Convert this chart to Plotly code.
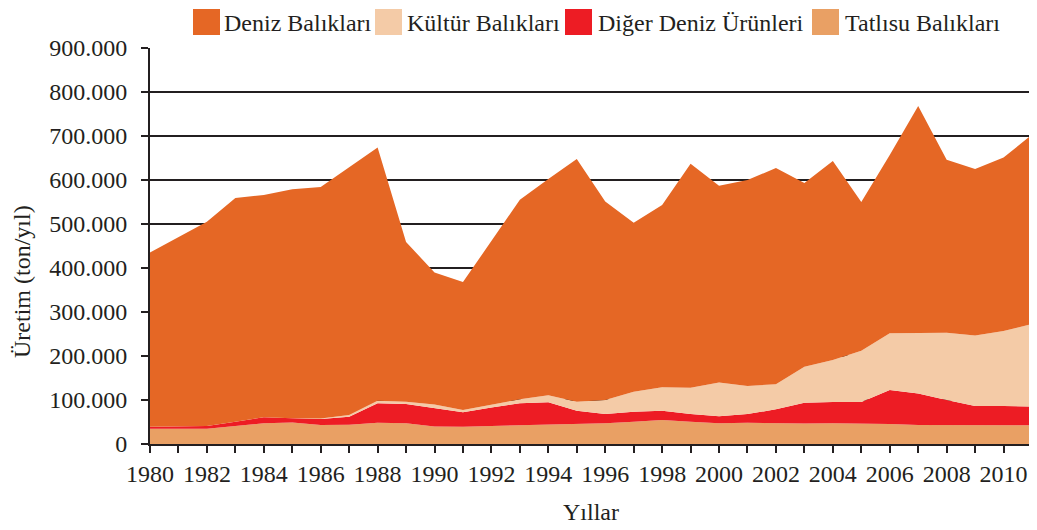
import plotly.graph_objects as go

years = [1980, 1981, 1982, 1983, 1984, 1985, 1986, 1987, 1988, 1989,
         1990, 1991, 1992, 1993, 1994, 1995, 1996, 1997, 1998, 1999,
         2000, 2001, 2002, 2003, 2004, 2005, 2006, 2007, 2008, 2009,
         2010, 2011]

# Üretim (ton/yıl)
tatlisu = [34800, 34800, 34800, 41000, 47000, 49000, 43000, 43500, 48500, 47000,
           40000, 39400, 41000, 41700, 43000, 44700, 47000, 50800, 54500, 50800,
           47000, 48500, 47000, 46500, 47000, 47000, 45500, 43000, 43000, 42700,
           42400, 42400]
diger = [4600, 5200, 6200, 9800, 13600, 9300, 13800, 18500, 43900, 44000,
         42000, 32600, 42000, 50700, 51700, 31100, 21000, 22700, 21300, 17200,
         16000, 19500, 31800, 47500, 48500, 48500, 77200, 72000, 57000, 43700,
         44000, 42400]
kultur = [0, 0, 0, 0, 0, 0, 1000, 4000, 6100, 5000,
          8000, 5000, 5600, 9100, 16300, 20200, 32000, 45500, 53000, 60000,
          77000, 63800, 57200, 81800, 95500, 116500, 128800, 136500, 153000, 160200,
          170400, 187900]
deniz = [395600, 430000, 464000, 508200, 505400, 520700, 526200, 563000, 575500, 363000,
         300000, 291000, 373400, 453500, 491000, 552000, 451000, 384000, 414200, 509000,
         447000, 468200, 491000, 417200, 452000, 338000, 405500, 516500, 393000, 378400,
         394200, 430300]

series = [
    ("Tatlısu Balıkları", tatlisu, "#E9A064"),
    ("Diğer Deniz Ürünleri", diger, "#ED1C24"),
    ("Kültür Balıkları", kultur, "#F4CBA7"),
    ("Deniz Balıkları", deniz, "#E56725"),
]
legend_order = ["Deniz Balıkları", "Kültür Balıkları", "Diğer Deniz Ürünleri", "Tatlısu Balıkları"]

FONT = "Liberation Serif"
TXT = "#231F20"
OFF = 8  # page body margin
W, H = 1037 - OFF, 530 - OFF
L, R, T, B = 150 - OFF, 1032 - OFF, 48 - OFF, 444 - OFF

fig = go.Figure()
for name, vals, col in series:
    fig.add_trace(go.Scatter(
        x=years, y=vals, name=name, mode="lines", stackgroup="one",
        line=dict(width=0, color=col), fillcolor=col, showlegend=False,
        hoverinfo="x+y+name"))

def px(xp):
    return (xp - OFF - L) / (R - L)

def py(yp):
    return (B - (yp - OFF)) / (B - T)

colors = {n: c for n, _, c in series}
legend_pos = [(193, 222), (375, 405), (565, 596), (812, 843)]
LEG_TOP = 9
shapes = []
annotations = []
for name, (sx, tx) in zip(legend_order, legend_pos):
    shapes.append(dict(type="rect", xref="paper", yref="paper",
                       x0=px(sx), x1=px(sx + 27), y0=py(LEG_TOP + 26), y1=py(LEG_TOP),
                       fillcolor=colors[name], line=dict(width=0)))
    annotations.append(dict(xref="paper", yref="paper", x=px(tx), y=py(LEG_TOP + 14),
                            xanchor="left", yanchor="middle", showarrow=False,
                            text=name, font=dict(family=FONT, size=24, color=TXT)))

annotations.append(dict(xref="paper", yref="paper", x=px(22), y=py(282),
                        xanchor="center", yanchor="middle", showarrow=False,
                        textangle=-90, text="Üretim (ton/yıl)",
                        font=dict(family=FONT, size=24, color=TXT)))
annotations.append(dict(xref="paper", yref="paper", x=px(591), y=py(512),
                        xanchor="center", yanchor="middle", showarrow=False,
                        text="Yıllar", font=dict(family=FONT, size=24, color=TXT)))

fig.update_layout(
    width=W, height=H,
    margin=dict(l=L, r=W - R, t=T, b=H - B, pad=0),
    paper_bgcolor="white", plot_bgcolor="white",
    separators=",.",
    font=dict(family=FONT, size=24, color=TXT),
    shapes=shapes, annotations=annotations,
    showlegend=False,
)
fig.update_xaxes(
    range=[1980, 2011], tick0=1980, dtick=2,
    showgrid=False, zeroline=False,
    showline=True, linecolor=TXT, linewidth=2,
    ticks="outside", ticklen=7, tickwidth=2, tickcolor=TXT,
    minor=dict(dtick=1, ticks="outside", ticklen=7, tickwidth=2, tickcolor=TXT, showgrid=False),
    tickfont=dict(family=FONT, size=24, color=TXT),
)
fig.update_yaxes(
    range=[0, 900000], tick0=0, dtick=100000, tickformat=",d",
    showgrid=True, gridcolor=TXT, gridwidth=2, zeroline=False,
    showline=True, linecolor=TXT, linewidth=2,
    ticks="outside", ticklen=7, tickwidth=2, tickcolor=TXT,
    ticklabelstandoff=9,
    tickfont=dict(family=FONT, size=24, color=TXT),
)

fig.write_html("out.html")
